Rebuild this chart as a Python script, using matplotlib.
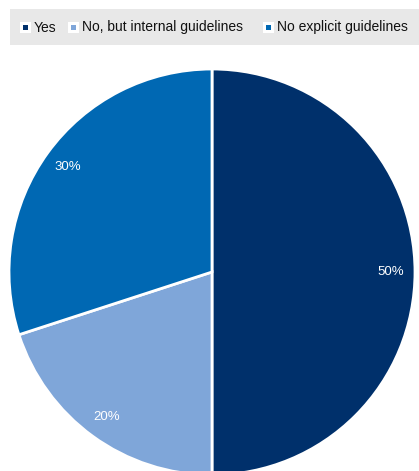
import matplotlib.pyplot as plt
from matplotlib.patches import Rectangle

categories = ['Yes', 'No, but internal guidelines', 'No explicit guidelines']
shares = [50, 20, 30]
colors = ['#00306B', '#7FA6D9', '#0068B3']

plt.rcParams['font.family'] = ['Liberation Sans', 'DejaVu Sans']

W, H = 419, 471
fig = plt.figure(figsize=(W / 100, H / 100), dpi=100)

# pie axes: centre at (212, 272) px, radius 203 px
cx, cy, r = 212, 272, 203
ax = fig.add_axes([(cx - r) / W, (H - cy - r) / H, 2 * r / W, 2 * r / H])
wedges, texts = ax.pie(shares, colors=colors, startangle=90, counterclock=False,
                       labels=[f'{v}%' for v in shares], labeldistance=0.88,
                       wedgeprops=dict(edgecolor='white', linewidth=2),
                       textprops=dict(color='white', fontsize=9.5))
for t in texts:
    t.set_ha('center')
    t.set_va('center')
ax.set_xlim(-1, 1)
ax.set_ylim(-1, 1)
ax.set_aspect('equal')
ax.axis('off')


def px(x, y):
    return x / W, 1 - y / H


# legend band
x0, y0 = px(10, 45)
fig.patches.append(Rectangle((x0, y0), (W - 10) / W, 36 / H, transform=fig.transFigure,
                             facecolor='#E8E8E8', edgecolor='none', zorder=0))
box_x = [20, 68, 263]
for bx, name, c in zip(box_x, categories, colors):
    x, y = px(bx, 33)
    fig.patches.append(Rectangle((x, y), 11 / W, 11 / H, transform=fig.transFigure,
                                 facecolor='white', edgecolor='none', zorder=1))
    x, y = px(bx + 3, 30)
    fig.patches.append(Rectangle((x, y), 5 / W, 5 / H, transform=fig.transFigure,
                                 facecolor=c, edgecolor='none', zorder=2))
    tx, ty = px(bx + 14, 27.5)
    fig.text(tx, ty, name, fontsize=10, va='center', ha='left', color='#111111')

fig.savefig('out.png', dpi=100)
